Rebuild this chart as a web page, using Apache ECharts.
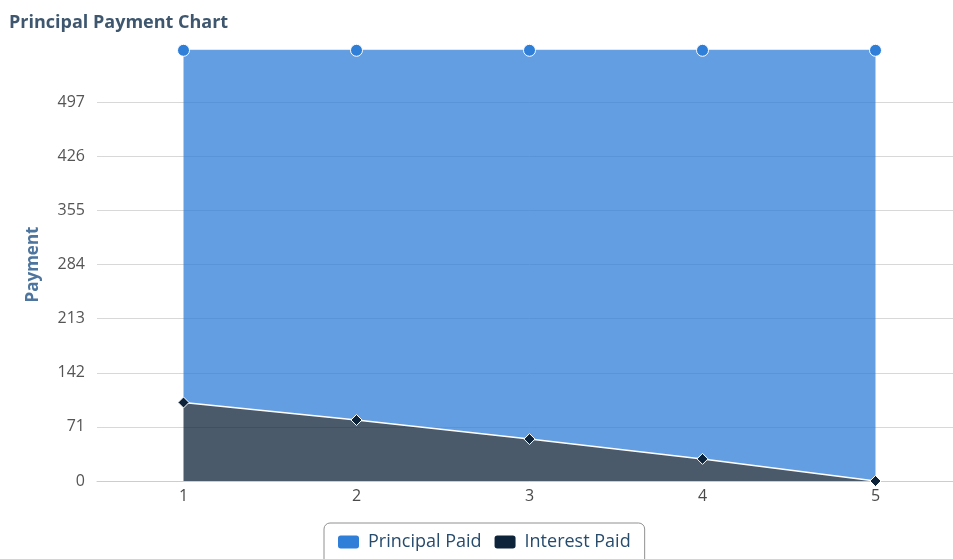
<!DOCTYPE html>
<html>
<head>
<meta charset="utf-8">
<script src="https://cdn.jsdelivr.net/npm/echarts@6/dist/echarts.min.js"></script>
<style>
  html, body { margin: 0; padding: 0; background: #fff; overflow: hidden; }
  /* the plot runs slightly past the right edge of the window */
  #chart { width: 962px; height: 559px; }
</style>
</head>
<body>
<div id="chart"></div>
<script>
// Loan years on the x axis
const years = ['1', '2', '3', '4', '5'];
// Amounts paid each year (stacked: interest below, principal on top)
const interestPaid = [103, 80, 55, 29, 0];
const principalPaid = [462, 485, 510, 536, 565];
// Y axis tick step and upper bound
const yStep = 71;
const yMax = 568;

const chart = echarts.init(document.getElementById('chart'), null, { renderer: 'canvas' });
const font = 'Open Sans, DejaVu Sans, sans-serif';

chart.setOption({
  animation: false,
  title: {
    text: 'Principal Payment Chart',
    left: 4,
    top: 9,
    textStyle: { fontFamily: font, fontSize: 18, fontWeight: 'bold', color: '#3e576f' }
  },
  grid: { left: 97, top: 48, right: 0, height: 433 },
  legend: {
    left: 324,
    top: 523,
    data: ['Principal Paid', 'Interest Paid'],
    icon: 'roundRect',
    itemWidth: 23,
    itemHeight: 15,
    itemGap: 11,
    padding: [10, 14, 14, 12],
    borderColor: '#909090',
    borderWidth: 1,
    borderRadius: 6,
    textStyle: { fontFamily: font, fontSize: 18, color: '#274b6d', padding: [0, 0, 0, 3] }
  },
  xAxis: {
    type: 'category',
    data: years,
    boundaryGap: true,
    axisLine: { lineStyle: { color: '#c0d0e0', width: 1 } },
    axisTick: { alignWithLabel: true, length: 6, lineStyle: { color: '#c0d0e0' } },
    axisLabel: { fontFamily: font, fontSize: 16, color: '#4a4a4a', margin: 7 },
    splitLine: { show: false }
  },
  yAxis: {
    type: 'value',
    min: 0,
    max: yMax,
    interval: yStep,
    name: 'Payment',
    nameLocation: 'middle',
    nameRotate: 90,
    nameGap: 55,
    nameTextStyle: { fontFamily: font, fontSize: 17, fontWeight: 'bold', color: '#4d759e' },
    axisLine: { show: false },
    axisTick: { show: false },
    axisLabel: { fontFamily: font, fontSize: 16, color: '#555', margin: 12, showMaxLabel: false },
    splitLine: { show: true, showMaxLine: false, lineStyle: { color: '#d8d8d8', width: 1 } }
  },
  series: [
    {
      name: 'Interest Paid',
      type: 'line',
      stack: 'pay',
      data: interestPaid,
      symbol: 'diamond',
      symbolSize: 11,
      itemStyle: { color: '#0d233a', borderColor: '#fff', borderWidth: 1 },
      lineStyle: { color: '#ffffff', width: 1.5 },
      areaStyle: { color: '#0d233a', opacity: 0.75 },
      z: 3
    },
    {
      name: 'Principal Paid',
      type: 'line',
      stack: 'pay',
      data: principalPaid,
      symbol: 'circle',
      symbolSize: 12,
      itemStyle: { color: '#2f7ed8', borderColor: '#fff', borderWidth: 1 },
      lineStyle: { color: '#5f9be0', width: 1 },
      areaStyle: { color: '#2f7ed8', opacity: 0.75 },
      z: 2
    }
  ]
});
</script>
</body>
</html>
